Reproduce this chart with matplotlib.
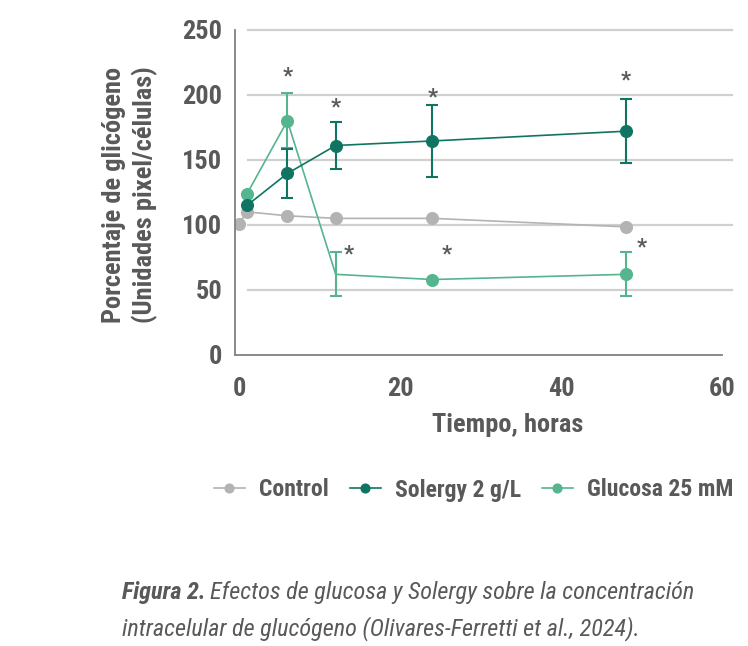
import numpy as np
import matplotlib
matplotlib.use("Agg")
from matplotlib import pyplot as plt
from matplotlib import font_manager

# data
hours_control = [0, 1, 6, 12, 24, 48]
control = [101, 110, 107, 105, 105, 98.5]

hours = [1, 6, 12, 24, 48]
solergy = [115, 139.5, 161, 164.5, 172]
solergy_err = [0, 18.5, 18, 27.5, 24.5]
glucosa = [124, 180, 62, 58, 62]
glucosa_err = [0, 21, 17, 0, 17]

# asterisks (significance marks) near points
stars_x = [6, 12, 13.6, 24, 48, 25.8, 50]
stars_y = [214, 190, 77, 198, 211, 77, 83]

labels = ["Control", "Solergy 2 g/L", "Glucosa 25 mM"]
xticks = [0, 20, 40, 60]
yticks = [0, 50, 100, 150, 200, 250]

GRAY = "#b3b3b3"
DARK = "#0f7562"
LIGHT = "#55b58f"
TXT = "#595959"

names = set(f.name for f in font_manager.fontManager.ttflist)
fam = None
for cand in ["Liberation Sans Narrow", "DejaVu Sans Condensed", "Roboto Condensed"]:
    if cand in names:
        fam = cand
        break
if fam is None:
    fam = "DejaVu Sans"
plt.rcParams['font.family'] = [fam, "DejaVu Sans"]
plt.rcParams['text.color'] = TXT

fig = plt.figure(figsize=(7.48, 6.46), dpi=100)
ax = fig.add_axes([235/748, 1-355/646, 497/748, (355-29.7)/646])

ax.set_xlim(-0.5, 61.2)
ax.set_ylim(0, 250)

# gridlines like excel
for yv in yticks[1:]:
    ax.plot([1.1, 61.2], [yv, yv], color="#d0d0d0", lw=1.6, zorder=0, clip_on=False)

l_con, = ax.plot(hours_control, control, color=GRAY, lw=1.2, marker="o", ms=8.4,
                 mec=GRAY, mfc=GRAY, zorder=2, label=labels[0])

ax.errorbar(hours, glucosa, yerr=glucosa_err, color=LIGHT, lw=1.2,
            elinewidth=1.5, capsize=4, capthick=1.5, fmt="none", zorder=3)
l_glu, = ax.plot(hours, glucosa, color=LIGHT, lw=1.2, marker="o", ms=8.4,
                 markevery=[0, 1, 3, 4], zorder=3, label=labels[2])

ax.errorbar(hours, solergy, yerr=solergy_err, color=DARK, lw=1.2,
            elinewidth=1.5, capsize=4, capthick=1.5, fmt="none", zorder=4)
l_sol, = ax.plot(hours, solergy, color=DARK, lw=1.2, marker="o", ms=8.4,
                 zorder=4, label=labels[1])

for sx, sy in zip(stars_x, stars_y):
    ax.text(sx, sy, "*", ha="center", va="center", fontsize=16,
            fontweight="bold", color=TXT, zorder=5)

ax.spines['top'].set_visible(False)
ax.spines['right'].set_visible(False)
for s in ['left', 'bottom']:
    ax.spines[s].set_color("#808080")
    ax.spines[s].set_linewidth(1.3)
ax.spines['bottom'].set_bounds(-0.5, 60)

ax.set_xticks(xticks)
ax.set_yticks(yticks)
ax.tick_params(length=0, labelsize=19, labelcolor=TXT)
ax.tick_params(axis='y', pad=9)
ax.tick_params(axis='x', pad=16)
for lab in ax.get_xticklabels() + ax.get_yticklabels():
    lab.set_fontweight("bold")

fig.text(508/748, 1-425/646, "Tiempo, horas", fontsize=19, fontweight="bold",
         color=TXT, ha="center", va="center")
fig.text(130/748, 1-195/646, "Porcentaje de glicógeno\n(Unidades pixel/células)",
         rotation=90, ha="center", va="center", fontsize=19, fontweight="bold",
         color=TXT, linespacing=1.25)

leg = fig.legend(handles=[l_con, l_sol, l_glu], labels=labels,
                 loc="center left", bbox_to_anchor=(214/748, 1-490/646), ncol=3,
                 frameon=False, fontsize=17, handlelength=1.3, markerscale=0.75,
                 columnspacing=0.9, handletextpad=0.6, borderaxespad=0,
                 borderpad=0)
for t in leg.get_texts():
    t.set_fontweight("bold")
    t.set_color(TXT)

# caption
c1 = fig.text(122/748, 1-592/646, "Figura 2.", fontsize=17.5, fontweight="bold",
              style="italic", va="center", color=TXT)
fig.canvas.draw()
bb = c1.get_window_extent()
fig.text((bb.x1 + 4)/748, 1-592/646,
         "Efectos de glucosa y Solergy sobre la concentración",
         fontsize=17.5, style="italic", va="center", color=TXT)
fig.text(122/748, 1-629/646,
         "intracelular de glucógeno (Olivares-Ferretti et al., 2024).",
         fontsize=17.5, style="italic", va="center", color=TXT)

fig.savefig("out.png", dpi=100)
